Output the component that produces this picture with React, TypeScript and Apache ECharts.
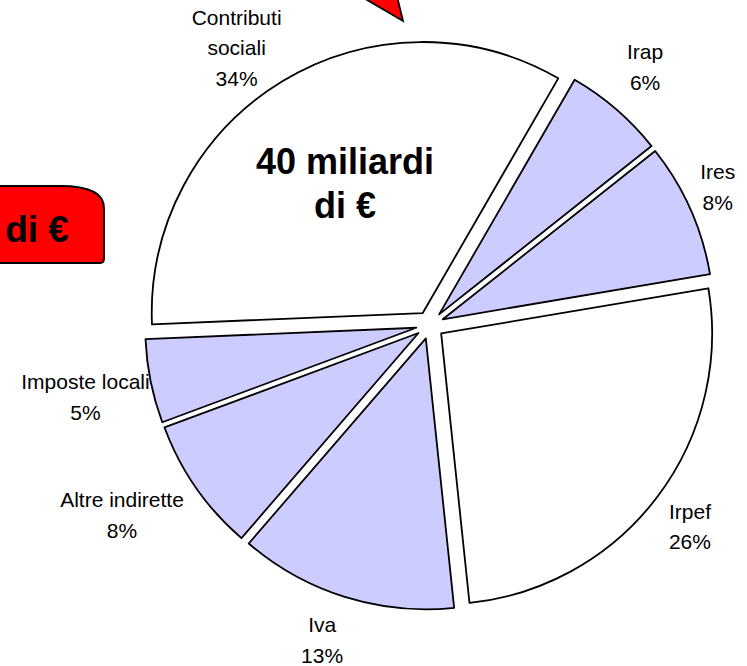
import React, { useEffect, useRef } from "react";
import * as echarts from "echarts";

// ---- data ----
const categories = ["Contributi sociali", "Irap", "Ires", "Irpef", "Iva", "Altre indirette", "Imposte locali"];
const shares = [34, 6, 8, 26, 13, 8, 5];
const sliceColors = ["#FFFFFF", "#CCCCFF", "#CCCCFF", "#FFFFFF", "#CCCCFF", "#CCCCFF", "#CCCCFF"];
const titleText = "40 miliardi\ndi €";
const boxText = "di €";

// ---- layout ----
// label placement, polar from the pie centre: distance, angle clockwise from top
const labelDist = [338, 336, 319, 329, 333, 362, 352];
const labelAngle = [-34.9, 39.8, 64.4, 127.8, 198.9, 238.3, 258.2];
const CX = 430;
const CY = 325;
const RADIUS = 271;
const EXPLODE = 14;
const START_ANGLE = 182.4; // ECharts convention (counter-clockwise from 3 o'clock)

export default function App() {
  const ref = useRef<HTMLDivElement>(null);
  useEffect(() => {
    if (!ref.current) return;
    echarts.graphic.registerShape(
      "redBox",
      echarts.graphic.extendPath(
        "M -10 186 L 60 186 C 86 186 104 192 104 208 L 104 259 Q 104 263 100 263 L -10 263 Z",
        {}
      )
    );
    const chart = echarts.init(ref.current, null, { renderer: "svg" });
    const font = "'Liberation Sans', Arial, sans-serif";
    const total = shares.reduce((a, b) => a + b, 0);
    const startCw = 90 - START_ANGLE; // clockwise-from-top degrees
    let cum = 0;
    const series = categories.map((cat, k) => {
      const mid = startCw + (360 * (cum + shares[k] / 2)) / total;
      cum += shares[k];
      const m = (mid * Math.PI) / 180;
      return {
        type: "pie",
        center: [CX + EXPLODE * Math.sin(m), CY - EXPLODE * Math.cos(m)],
        radius: [0, RADIUS],
        startAngle: START_ANGLE,
        clockwise: true,
        avoidLabelOverlap: false,
        silent: true,
        emphasis: { disabled: true },
        labelLine: { show: false },
        label: {
          show: true,
          position: "outside",
          color: "#000000",
          fontFamily: font,
          fontSize: 21,
          lineHeight: 30.5,
          formatter: (p: any) =>
            `${String(p.name).replace("Contributi ", "Contributi\n")}\n${Math.round(p.percent)}%`,
        },
        labelLayout: (params: any) => {
          const i = params.dataIndex;
          const a = (labelAngle[i] * Math.PI) / 180;
          return {
            x: CX + labelDist[i] * Math.sin(a),
            y: CY - labelDist[i] * Math.cos(a),
            align: "center",
            verticalAlign: "middle",
          };
        },
        data: categories.map((name, i) =>
          i === k
            ? {
                name,
                value: shares[i],
                itemStyle: { color: sliceColors[i], borderColor: "#000000", borderWidth: 1.8 },
              }
            : {
                name,
                value: shares[i],
                itemStyle: { color: "rgba(0,0,0,0)", borderWidth: 0 },
                label: { show: false },
              }
        ),
      };
    });
    chart.setOption({
      animation: false,
      backgroundColor: "#FFFFFF",
      graphic: [
        {
          type: "polygon",
          shape: { points: [[333, -20], [393, -20], [403, 21]] },
          style: { fill: "#FF0000", stroke: "#000000", lineWidth: 1.8 },
          z: 10,
        },
        {
          type: "redBox",
          x: 0,
          y: 0,
          style: { fill: "#FF0000", stroke: "#000000", lineWidth: 1.8 },
          z: 10,
        },
        {
          type: "text",
          x: 37,
          y: 229,
          style: {
            text: boxText,
            fill: "#000000",
            font: `bold 37px ${font}`,
            align: "center",
            verticalAlign: "middle",
          },
          z: 11,
        },
        {
          type: "text",
          x: 345,
          y: 183,
          style: {
            text: titleText,
            fill: "#000000",
            font: `bold 36px ${font}`,
            lineHeight: 44,
            align: "center",
            verticalAlign: "middle",
          },
          z: 11,
        },
      ],
      series,
    });
    return () => chart.dispose();
  }, []);
  return (
    <div
      ref={ref}
      style={{ position: "fixed", left: 0, top: 0, width: 747, height: 666 }}
    />
  );
}
